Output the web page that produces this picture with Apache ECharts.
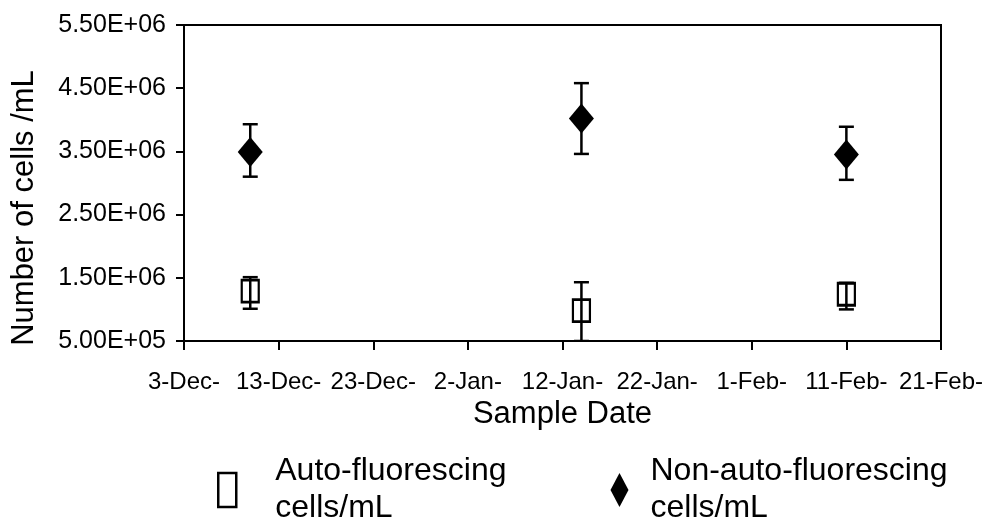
<!DOCTYPE html>
<html>
<head>
<meta charset="utf-8">
<script src="https://cdn.jsdelivr.net/npm/echarts@6/dist/echarts.min.js"></script>
<style>
  html, body { margin: 0; padding: 0; background: #fff; }
  #chart { width: 989px; height: 527px; }
</style>
</head>
<body>
<div id="chart"></div>
<script>
// Sampling period shown on the date axis (10-day steps)
const axisStart = '2005-12-03';
const axisEnd = '2006-02-21';
const xTickLabels = ['3-Dec-', '13-Dec-', '23-Dec-', '2-Jan-', '12-Jan-', '22-Jan-', '1-Feb-', '11-Feb-', '21-Feb-'];

// Sample dates and cell counts (mean with error-bar bounds)
const sampleDates = ['2005-12-10', '2006-01-14', '2006-02-11'];
const autoMean = [1290000, 980000, 1240000];
const autoLow = [1010000, 500000, 1000000];
const autoHigh = [1510000, 1430000, 1420000];
const nonAutoMean = [3490000, 4020000, 3450000];
const nonAutoLow = [3100000, 3460000, 3050000];
const nonAutoHigh = [3930000, 4580000, 3890000];

// Cell-count axis
const yTickValues = [500000, 1500000, 2500000, 3500000, 4500000, 5500000];
const yTickLabels = ['5.00E+05', '1.50E+06', '2.50E+06', '3.50E+06', '4.50E+06', '5.50E+06'];

const seriesNames = ['Auto-fluorescing cells/mL', 'Non-auto-fluorescing cells/mL'];

const DAY = 86400000;
const dayOf = d => Math.round((Date.parse(d) - Date.parse(axisStart)) / DAY);
const sampleDays = sampleDates.map(dayOf);
const spanDays = dayOf(axisEnd);

const FONT = '"Liberation Sans", Arial, sans-serif';

function errorBars(name, lows, highs) {
  return {
    type: 'custom',
    name: name,
    z: 5,
    silent: true,
    clip: true,
    data: sampleDays.map((d, i) => [d, lows[i], highs[i]]),
    encode: { x: 0, y: [1, 2] },
    renderItem: function (params, api) {
      const lo = api.coord([api.value(0), api.value(1)]);
      const hi = api.coord([api.value(0), api.value(2)]);
      const half = 7.5;
      const st = () => ({ stroke: '#000', lineWidth: 2.5 });
      return {
        type: 'group',
        children: [
          { type: 'line', shape: { x1: hi[0], y1: hi[1], x2: lo[0], y2: lo[1] }, style: st() },
          { type: 'line', shape: { x1: hi[0] - half, y1: hi[1], x2: hi[0] + half, y2: hi[1] }, style: st() },
          { type: 'line', shape: { x1: lo[0] - half, y1: lo[1], x2: lo[0] + half, y2: lo[1] }, style: st() }
        ]
      };
    }
  };
}

const chart = echarts.init(document.getElementById('chart'), null, { renderer: 'canvas' });

const legendText = pad => ({ fontSize: 32, lineHeight: 37, color: '#000', fontFamily: FONT, padding: [0, 0, 0, pad] });

chart.setOption({
  backgroundColor: '#fff',
  animation: false,
  textStyle: { fontFamily: FONT, color: '#000' },
  grid: {
    left: 184, right: 48, top: 25, bottom: 186,
    show: true, borderColor: '#000', borderWidth: 2, backgroundColor: '#fff'
  },
  xAxis: {
    type: 'value',
    min: 0,
    max: spanDays,
    interval: 10,
    name: 'Sample Date',
    nameLocation: 'middle',
    nameGap: 52,
    nameTextStyle: { fontSize: 31, color: '#000', fontFamily: FONT },
    axisLine: { lineStyle: { color: '#000', width: 2 } },
    axisTick: { show: true, length: 9, lineStyle: { color: '#000', width: 2 } },
    axisLabel: {
      show: true,
      showMinLabel: true,
      showMaxLabel: true,
      margin: 29,
      fontSize: 24,
      color: '#000',
      fontFamily: FONT,
      formatter: v => xTickLabels[Math.round(v / 10)] || ''
    },
    splitLine: { show: false }
  },
  yAxis: {
    type: 'value',
    min: 500000,
    max: 5500000,
    name: 'Number of cells /mL',
    nameLocation: 'middle',
    nameGap: 144,
    nameTextStyle: { fontSize: 31, color: '#000', fontFamily: FONT, padding: [0, 50, 0, 0] },
    axisLine: { show: true, lineStyle: { color: '#000', width: 2 } },
    axisTick: { show: true, length: 8, customValues: yTickValues, lineStyle: { color: '#000', width: 2 } },
    axisLabel: {
      customValues: yTickValues,
      margin: 18,
      fontSize: 25,
      color: '#000',
      fontFamily: FONT,
      formatter: v => {
        const i = yTickValues.findIndex(t => Math.abs(t - v) < 1);
        return i >= 0 ? yTickLabels[i] : '';
      }
    },
    splitLine: { show: false }
  },
  legend: {
    left: 212,
    top: 448,
    orient: 'horizontal',
    itemWidth: 18,
    itemHeight: 34,
    itemGap: 104,
    symbolKeepAspect: false,
    selectedMode: false,
    textStyle: legendText(34),
    formatter: name => name.replace(' ', '\n'),
    data: [
      { name: seriesNames[0], icon: 'rect', textStyle: legendText(34),
        itemStyle: { color: '#fff', borderColor: '#000', borderWidth: 2.5 } },
      { name: seriesNames[1], icon: 'diamond', textStyle: legendText(17),
        itemStyle: { color: '#000', borderWidth: 0 } }
    ]
  },
  series: [
    {
      type: 'scatter',
      name: seriesNames[0],
      z: 3,
      symbol: 'rect',
      symbolSize: [17, 22],
      itemStyle: { color: '#fff', borderColor: '#000', borderWidth: 2.5, opacity: 1 },
      data: sampleDays.map((d, i) => [d, autoMean[i]])
    },
    {
      type: 'scatter',
      name: seriesNames[1],
      z: 3,
      symbol: 'diamond',
      symbolSize: [25, 30],
      itemStyle: { color: '#000', opacity: 1 },
      data: sampleDays.map((d, i) => [d, nonAutoMean[i]])
    },
    errorBars('auto-bars', autoLow, autoHigh),
    errorBars('nonauto-bars', nonAutoLow, nonAutoHigh)
  ]
});
</script>
</body>
</html>
